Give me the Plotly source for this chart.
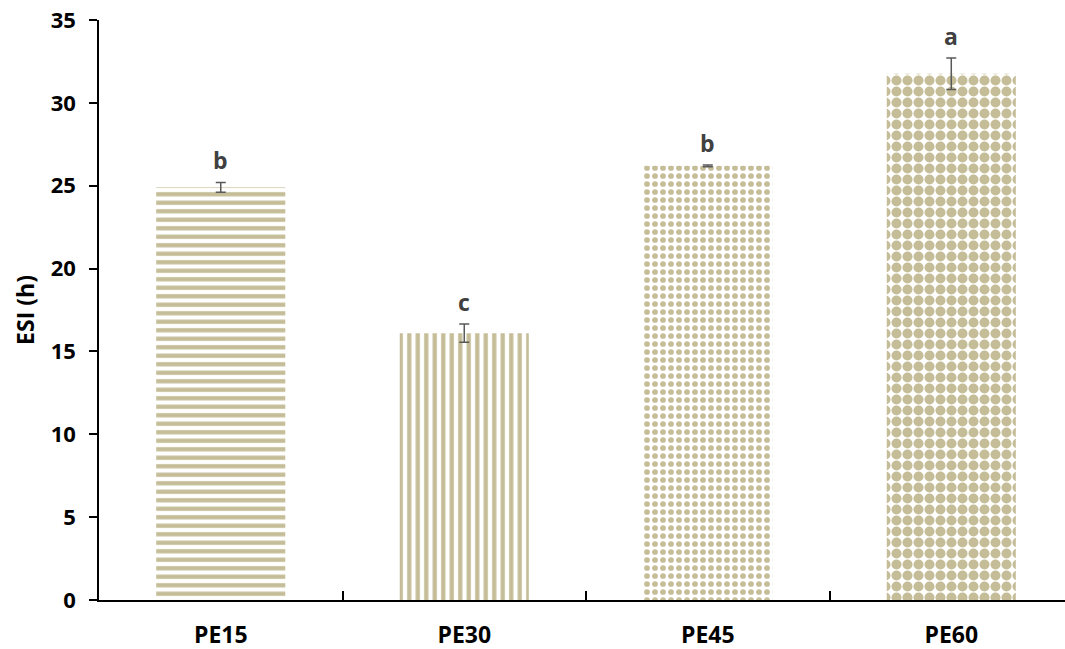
import plotly.graph_objects as go

categories = ["PE15", "PE30", "PE45", "PE60"]
esi_values = [24.9, 16.1, 26.2, 31.75]
esi_errors = [0.3, 0.55, 0.05, 0.95]
sig_letters = ["b", "c", "b", "a"]

tan = "#c4bd97"
pattern_shapes = ["-", "|", ".", "."]
pattern_sizes = [8.5, 8.5, 8, 11]
pattern_solid = [0.5, 0.5, 0.4, 0.65]

fig = go.Figure()
fig.add_trace(go.Bar(
    x=categories, y=esi_values, width=0.53,
    marker=dict(
        color=tan,
        line=dict(width=0),
        pattern=dict(shape=pattern_shapes, size=pattern_sizes, solidity=pattern_solid,
                     fgcolor=tan, bgcolor="white", fillmode="replace"),
    ),
    error_y=dict(type="data", array=esi_errors, visible=True, color="#595959",
                 thickness=1.5, width=5),
    hoverinfo="skip",
))

for c, v, e, t in zip(categories, esi_values, esi_errors, sig_letters):
    fig.add_annotation(x=c, y=v + e, text="<b>%s</b>" % t, showarrow=False,
                       yanchor="bottom", yshift=4,
                       font=dict(family="Open Sans", size=23, color="#404040"))

fig.update_layout(
    width=1065, height=649,
    margin=dict(l=99, r=0, t=20, b=49),
    plot_bgcolor="white", paper_bgcolor="white",
    showlegend=False,
    font=dict(family="Open Sans", color="black"),
    xaxis=dict(
        range=[-0.5, 3.467], automargin=False,
        showline=True, linecolor="black", linewidth=1.5,
        ticks="inside", tickson="boundaries", ticklen=9, tickcolor="black", tickwidth=1.5,
        tickfont=dict(size=23, family="Open Sans", color="black"),
        tickprefix="<b>", ticksuffix="</b>",
        ticklabelstandoff=14, ticklabeloverflow="allow",
        showgrid=False,
    ),
    yaxis=dict(
        range=[0, 35], dtick=5, automargin=False,
        showline=True, linecolor="black", linewidth=1.5,
        ticks="outside", ticklen=8, tickcolor="black", tickwidth=1.5,
        tickfont=dict(size=22, family="Open Sans", color="black"),
        tickprefix="<b>", ticksuffix="</b>",
        ticklabelstandoff=9, ticklabeloverflow="allow",
        showgrid=False, zeroline=False,
        title=dict(text="<b>ESI (h)</b>", font=dict(size=23, family="Open Sans", color="black"),
                   standoff=10),
    ),
)

fig.write_html("out.html",
               config={"displayModeBar": False},
               post_script="document.body.style.margin='0';document.body.style.overflow='hidden';")
